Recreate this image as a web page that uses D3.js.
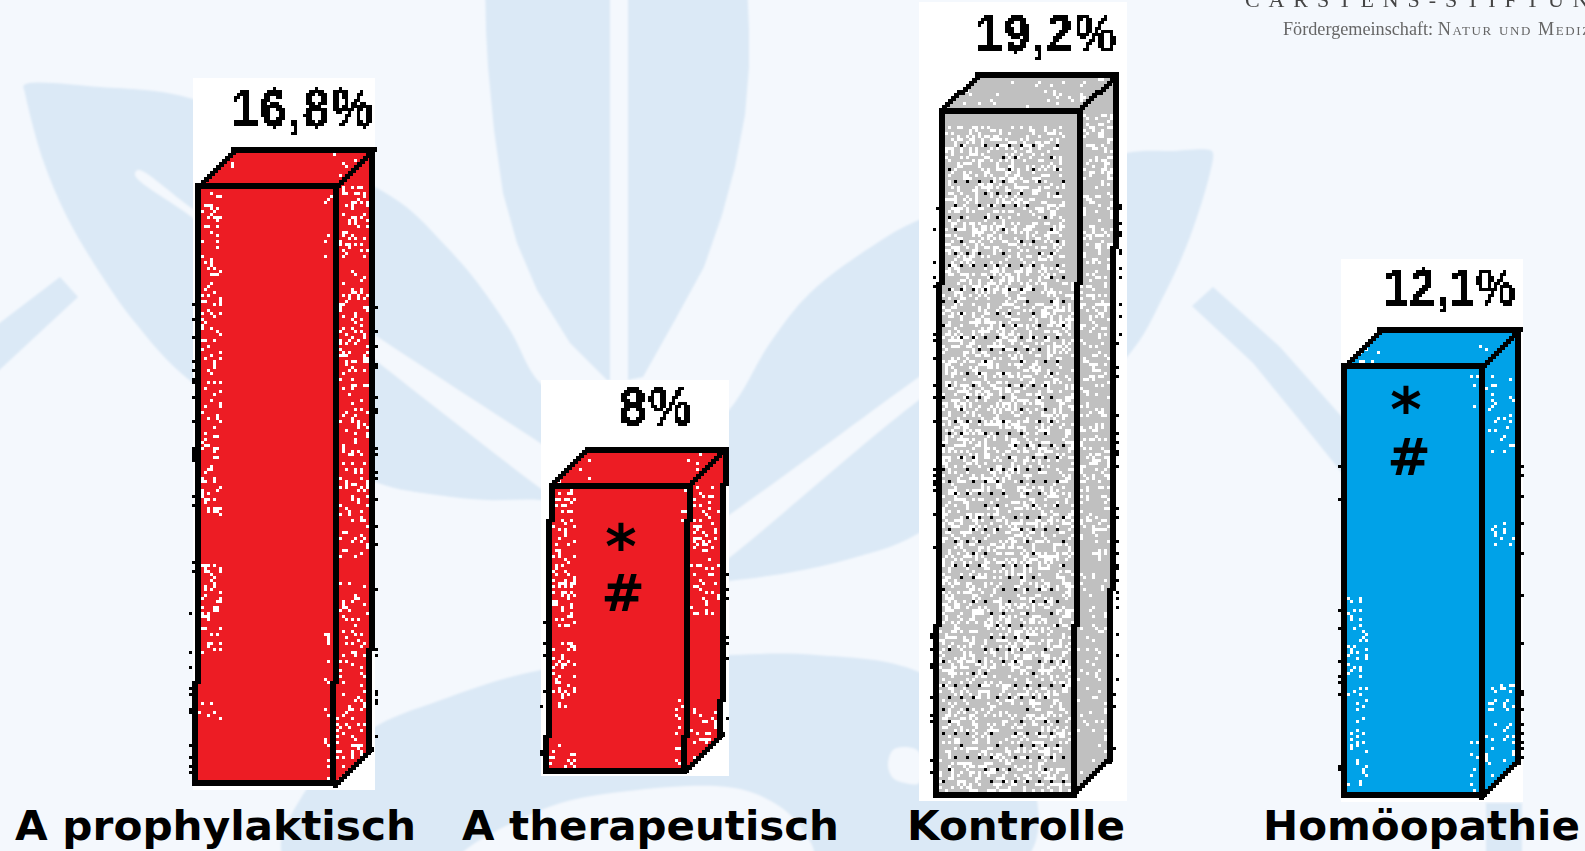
<!DOCTYPE html>
<html>
<head>
<meta charset="utf-8">
<title>Balken</title>
<script src="https://cdn.jsdelivr.net/npm/d3@7"></script>
<style>
	html, body { margin: 0; padding: 0; background: #f4f8fd; overflow: hidden; }
	svg { display: block; }
	.catLabel { font-family: "DejaVu Sans"; font-weight: bold; font-size: 41px; fill: #000; }
	.valueLabel { font-family: "Liberation Sans"; font-weight: bold; fill: #000; letter-spacing: 2px; }
	.mark { font-family: "DejaVu Sans"; font-weight: bold; fill: #000; }
</style>
</head>
<body>
<svg id="chart" width="1585" height="851"></svg>
<script>
// chart values
const categories = ["A prophylaktisch", "A therapeutisch", "Kontrolle", "Homöopathie"];
const percentValues = [16.8, 8, 19.2, 12.1];
const valueLabels = ["16,8%", "8%", "19,2%", "12,1%"];
const significance = [[], ["*", "#"], [], ["*", "#"]];
const faceColors = ["#ed1c24", "#ed1c24", "#c0c0c0", "#00a2e8"];

// layout of the four hand-placed columns (the source picture has no common baseline)
const frontLeft = [199, 551, 942, 1345];
const baseLine = [784, 770, 795, 796];
const leanAtFoot = [3, 4, 6, 1];
const panelBox = [[193, 78, 375, 790], [541, 380, 729, 776], [919, 2, 1127, 801], [1341, 259, 1523, 802]];
const labelBox = [[232, 127, 143, 55], [619, 425, 75, 54], [976, 52, 142, 54], [1384, 305, 133, 52]];
const catLabelBox = [[15, 401], [462, 377], [907, 218], [1263, 317]];
const markOffset = [null, [[70, 83], [72, 126]], null, [[61, 66], [64, 110]]];

// where the scanner noise sits along each column, as fractions of its height
const noiseLeft = [[[0, .55], [.63, .78], [.86, .89]], [[0, .5], [.55, .78], [.9, 1]], [[0, 1]], [[.52, .98]]];
const noiseSide = [[[0, .12], [.14, .62], [.66, 1]], [[0, .45], [.78, 1]], [[0, 1]], [[.02, .2], [.36, .42], [.72, .95]]];

const frontWidth = 138, depthX = 36, depthY = 35, cell = 3, edge = 6;

// watermark outlines behind the chart
const leafShapes = [
	[[24,85],[100,87],[193,99],[375,187],[410,210],[440,240],[473,277],[510,330],[540,383],[600,420],[600,510],[540,500],[487,500],[437,495],[375,482],[193,383],[133,320],[100,273],[67,217],[43,160],[25,93]],
	[[729,410],[770,343],[810,293],[877,243],[919,220],[1127,153],[1170,151],[1210,150],[1213,153],[1210,173],[1190,237],[1163,297],[1127,357],[919,533],[853,558],[787,573],[729,581],[660,590],[660,470]],
	[[285,860],[306,790],[370,730],[441,700],[541,670],[729,655],[816,655],[919,672],[1020,750],[1025,860]]
];
const flatShapes = [
	[[485,-20],[486,30],[488,67],[494,130],[503,193],[517,243],[537,290],[570,343],[607,380],[610,380],[610,-20]],
	[[628,-20],[628,380],[643,377],[675,320],[704,267],[722,215],[735,167],[745,115],[749,67],[749,30],[747,-20]],
	[[-20,338],[60,277],[78,297],[-20,388]],
	[[1192,306],[1213,287],[1280,347],[1342,417],[1360,450],[1360,490],[1342,473],[1297,417],[1253,363]],
	[[1486,803],[1522,803],[1522,860],[1486,860]]
];
const paleShapes = [
	[[138,170],[193,209],[375,335],[540,443],[640,510],[640,560],[540,488],[375,360],[193,218],[135,175]],
	[[729,515],[919,377],[1000,320],[1000,345],[919,400],[729,558],[660,610],[660,560]],
	[[459,860],[549,807],[638,790],[727,787],[763,797],[795,820],[813,860]],
	[[888,765],[893,750],[905,747],[919,752],[919,783],[905,783],[893,778]]
];

let svg = d3.select("#chart"),
	rng = d3.randomLcg(0.37),
	xPos = d3.scaleOrdinal(categories, frontLeft),
	footY = d3.scaleOrdinal(categories, baseLine),
	heightScale = d3.scaleLinear([0, 20], [0, 712]),
	outline = d3.line().curve(d3.curveLinear),
	leafLine = d3.line().curve(d3.curveCatmullRomClosed.alpha(0.5));

drawDefs();
drawWatermark();
drawLetterhead();
categories.forEach(drawColumn);

function drawDefs(){
	let defs = svg.append("defs");
	defs.append("filter").attr("id", "soft")
		.append("feGaussianBlur").attr("stdDeviation", 0.8);
	defs.append("filter").attr("id", "softText")
		.append("feGaussianBlur").attr("stdDeviation", 0.45);
	// mosaic filter so the value labels look like the low-res scan they came from
	let pix = defs.append("filter").attr("id", "pixel")
		.attr("filterUnits", "userSpaceOnUse")
		.attr("x", 0).attr("y", 0).attr("width", 1585).attr("height", 851);
	pix.append("feFlood").attr("x", 1).attr("y", 1).attr("width", 1).attr("height", 1);
	pix.append("feComposite").attr("width", cell).attr("height", cell);
	pix.append("feTile").attr("result", "grid");
	pix.append("feComposite").attr("in", "SourceGraphic").attr("in2", "grid").attr("operator", "in");
	pix.append("feMorphology").attr("operator", "dilate").attr("radius", 1);
	pix.append("feComponentTransfer").append("feFuncA").attr("type", "discrete").attr("tableValues", "0 1 1");
}

function drawWatermark(){
	let g = svg.append("g").attr("filter", "url(#soft)");
	g.selectAll("path.leaf").data(leafShapes).enter().append("path")
		.attr("class", "leaf").attr("fill", "#dbe9f6")
		.attr("d", function(d){ return leafLine(d); });
	g.selectAll("path.flat").data(flatShapes).enter().append("path")
		.attr("class", "flat").attr("fill", "#dbe9f6")
		.attr("d", function(d){ return outline(d) + "Z"; });
	g.selectAll("path.pale").data(paleShapes).enter().append("path")
		.attr("class", "pale").attr("fill", "#f4f8fd")
		.attr("d", function(d){ return leafLine(d); });
}

function drawLetterhead(){
	let g = svg.append("g").attr("filter", "url(#softText)").attr("font-family", "Liberation Serif");
	g.append("text").attr("x", 1245).attr("y", 7).attr("font-size", 22)
		.attr("letter-spacing", 8.9).attr("fill", "#444").text("CARSTENS-STIFTUNG");
	let sub = g.append("text").attr("x", 1283).attr("y", 35).attr("font-size", 18.2).attr("fill", "#666");
	sub.append("tspan").text("Fördergemeinschaft: ");
	sub.append("tspan").attr("letter-spacing", 1.6)
		.style("font-variant", "small-caps").text("Natur und Medizin");
}

// jagged stroke made of square cells, as on the scanned bitmap
function pixelLine(a, b, size){
	let n = Math.ceil(Math.max(Math.abs(b[0] - a[0]), Math.abs(b[1] - a[1])) / cell),
		d = "";
	for(let i = 0; i <= n; i++){
		let t = n === 0 ? 0 : i / n,
			x = Math.round((a[0] + (b[0] - a[0]) * t - size / 2) / cell) * cell,
			y = Math.round((a[1] + (b[1] - a[1]) * t - size / 2) / cell) * cell;
		d += "M" + x + " " + y + "h" + size + "v" + size + "h" + (-size) + "z";
	}
	return d;
}

function scatter(poly, top, foot, bands, density, skip){
	let xs = poly.map(function(p){ return p[0]; }),
		ys = poly.map(function(p){ return p[1]; }),
		d = "";
	for(let y = Math.floor(d3.min(ys) / cell) * cell; y < d3.max(ys); y += cell){
		let f = (y - top) / (foot - top);
		if(!bands.some(function(b){ return f >= b[0] && f <= b[1]; })){ continue; }
		for(let x = Math.floor(d3.min(xs) / cell) * cell; x < d3.max(xs); x += cell){
			if(skip && skip(x, y)){ continue; }
			if(d3.polygonContains(poly, [x + 1.5, y + 1.5]) && rng() < density){
				d += "M" + x + " " + y + "h" + cell + "v" + cell + "h" + (-cell) + "z";
			}
		}
	}
	return d;
}

function drawColumn(cat, i){
	let g = svg.append("g").attr("class", "column"),
		box = panelBox[i],
		color = faceColors[i],
		isGrey = color === "#c0c0c0",
		isBlue = color === "#00a2e8",
		x = xPos(cat),
		foot = footY(cat),
		top = foot - heightScale(percentValues[i]),
		lean = leanAtFoot[i],
		front = [[x, top], [x + frontWidth, top], [x + frontWidth - lean, foot], [x - lean, foot]],
		roof = [[x, top], [x + depthX, top - depthY], [x + frontWidth + depthX, top - depthY], [x + frontWidth, top]],
		side = [[x + frontWidth, top], [x + frontWidth + depthX, top - depthY], [x + frontWidth + depthX - lean, foot - depthY], [x + frontWidth - lean, foot]];

	g.append("rect").attr("x", box[0]).attr("y", box[1])
		.attr("width", box[2] - box[0]).attr("height", box[3] - box[1]).attr("fill", "#fff");

	[front, roof, side].forEach(function(poly){
		g.append("path").attr("d", outline(poly) + "Z").attr("fill", color);
	});

	// white noise on the faces
	let white = "", black = "";
	if(isGrey){
		white += scatter(front, top, foot, [[0, 1]], 0.3, function(px, py){
			return px > x + frontWidth - lean - 12 && py < top + 170 || py < top + 14;
		});
		white += scatter(side, top, foot, [[0, .62]], 0.22);
		white += scatter(side, top, foot, [[.62, 1]], 0.1);
		white += scatter(roof, top - depthY, top, [[0, 1]], 0.06);
		// the black dots of the grey pattern sit on a loose staggered lattice
		black += scatter(front, top, foot, [[0, 1]], 0.55, function(px, py){
			let row = Math.round(py / cell), col = Math.round(px / cell);
			return py < top + 24 || px > x + frontWidth - 18 || row % 4 !== 0 || (col + row / 4 * 2) % 4 !== 0;
		});
	}
	else {
		white += scatter(front, top, foot, noiseLeft[i], isBlue ? 0.13 : 0.2, function(px){
			return px > x + 22;
		});
		white += scatter(front, top, foot, [[0, .12], [.74, 1]], 0.12, function(px){
			return px < x + frontWidth - 14;
		});
		white += scatter(side, top, foot, noiseSide[i], isBlue ? 0.12 : 0.17);
		white += scatter(roof, top - depthY, top, [[0, 1]], 0.07, function(px){
			return px > x + 40 && px < x + frontWidth - 6;
		});
	}
	g.append("path").attr("d", white).attr("fill", "#fff");
	g.append("path").attr("d", black).attr("fill", "#000");

	// black outline of the box
	let lines = "";
	lines += pixelLine([x, top], [x + frontWidth, top], edge);
	lines += pixelLine([x, top], [x - lean, foot], edge);
	lines += pixelLine([x + frontWidth, top], [x + frontWidth - lean, foot], edge);
	lines += pixelLine([x - lean, foot], [x + frontWidth - lean, foot], edge);
	lines += pixelLine([x, top], [x + depthX, top - depthY], edge - 1);
	lines += pixelLine([x + depthX, top - depthY], [x + frontWidth + depthX, top - depthY], edge);
	lines += pixelLine([x + frontWidth, top], [x + frontWidth + depthX, top - depthY], edge - 1);
	lines += pixelLine([x + frontWidth + depthX, top - depthY], [x + frontWidth + depthX - lean, foot - depthY], edge);
	lines += pixelLine([x + frontWidth + depthX - lean, foot - depthY], [x + frontWidth - lean, foot], edge - 1);
	// rough nubs along the outer edges
	for(let y = top + 90; y < foot - 10; y += cell){
		if(rng() < 0.14){
			let t = (y - top) / (foot - top);
			lines += pixelLine([x - lean * t - 5, y], [x - lean * t - 5, y], cell);
		}
		if(y < foot - depthY && rng() < 0.14){
			let t = (y - top) / (foot - top);
			lines += pixelLine([x + frontWidth + depthX - lean * t + 5, y], [x + frontWidth + depthX - lean * t + 5, y], cell);
		}
	}
	g.append("path").attr("d", lines).attr("fill", "#000");

	// value label
	let lab = labelBox[i];
	g.append("text").attr("class", "valueLabel").attr("filter", "url(#pixel)")
		.attr("x", lab[0]).attr("y", lab[1]).attr("font-size", lab[3])
		.attr("textLength", lab[2]).attr("lengthAdjust", "spacingAndGlyphs")
		.text(valueLabels[i]);

	// significance marks
	significance[i].forEach(function(m, j){
		let off = markOffset[i][j];
		g.append("text").attr("class", "mark")
			.attr("x", x + off[0]).attr("y", top + off[1])
			.attr("text-anchor", "middle")
			.attr("font-size", m === "*" ? 60 : 52)
			.text(m);
	});

	// category label
	g.append("text").attr("class", "catLabel")
		.attr("x", catLabelBox[i][0]).attr("y", 840)
		.attr("textLength", catLabelBox[i][1]).attr("lengthAdjust", "spacingAndGlyphs")
		.text(cat);
}
</script>
</body>
</html>
